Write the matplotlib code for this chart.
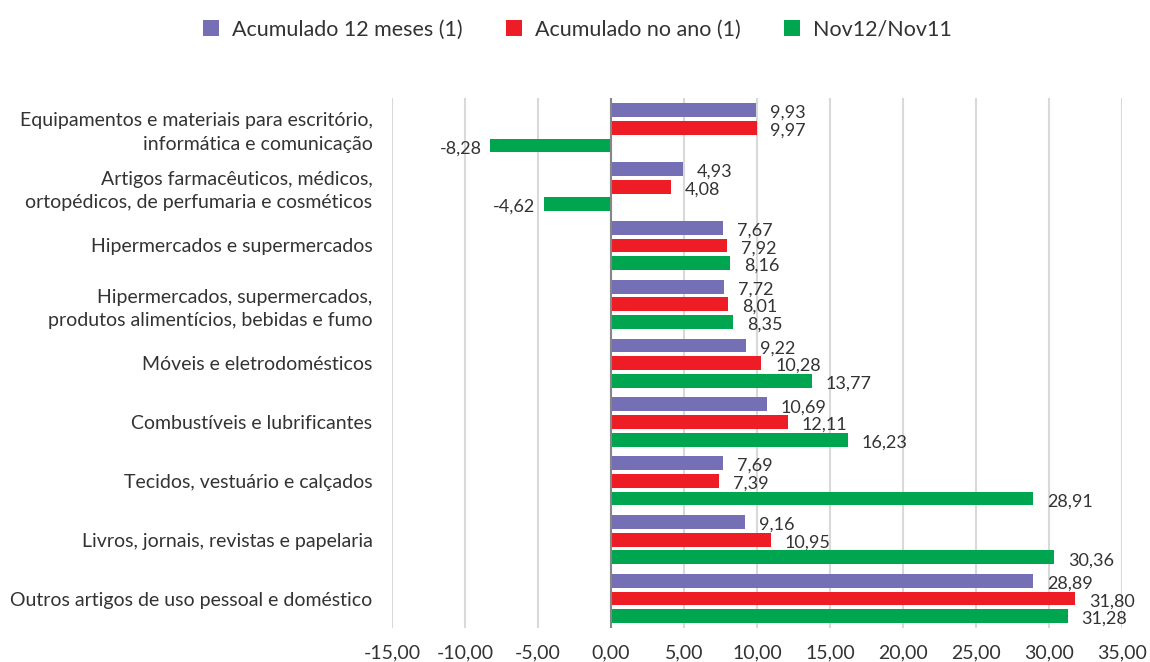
import numpy as np
from matplotlib import pyplot as plt

plt.rcParams['font.family'] = ['Lato', 'DejaVu Sans']

categorias = [
    'Equipamentos e materiais para escritório,\ninformática e comunicação',
    'Artigos farmacêuticos, médicos,\nortopédicos, de perfumaria e cosméticos',
    'Hipermercados e supermercados',
    'Hipermercados, supermercados,\nprodutos alimentícios, bebidas e fumo',
    'Móveis e eletrodomésticos',
    'Combustíveis e lubrificantes',
    'Tecidos, vestuário e calçados',
    'Livros, jornais, revistas e papelaria',
    'Outros artigos de uso pessoal e doméstico',
]

acum_12m = [9.93, 4.93, 7.67, 7.72, 9.22, 10.69, 7.69, 9.16, 28.89]
acum_ano = [9.97, 4.08, 7.92, 8.01, 10.28, 12.11, 7.39, 10.95, 31.80]
nov12_nov11 = [-8.28, -4.62, 8.16, 8.35, 13.77, 16.23, 28.91, 30.36, 31.28]

series = [
    ('Acumulado 12 meses (1)', acum_12m, '#7570B5'),
    ('Acumulado no ano (1)', acum_ano, '#EE1D25'),
    ('Nov12/Nov11', nov12_nov11, '#00A550'),
]

texto = '#333333'

fig = plt.figure(figsize=(11.5, 6.62), dpi=100)
ax = fig.add_axes([0.3409, 0.0514, 0.6348, 0.800])

y = np.arange(len(categorias))
passo = 0.30
altura = 0.235

for i, (nome, vals, cor) in enumerate(series):
    pos = y + (i - 1) * passo
    ax.barh(pos, vals, height=altura, color=cor, label=nome, zorder=3)
    for p, v in zip(pos, vals):
        txt = '{:.2f}'.format(v).replace('.', ',')
        if v >= 0:
            ax.annotate(txt, (v, p), xytext=(10, -2), textcoords='offset points',
                        ha='left', va='center', fontsize=13, color=texto)
        else:
            ax.annotate(txt, (v, p), xytext=(-6, -2), textcoords='offset points',
                        ha='right', va='center', fontsize=13, color=texto)

ax.set_xlim(-15, 35)
ax.set_ylim(len(categorias) - 0.5, -0.5)
ax.set_xticks(np.arange(-15, 36, 5))
ax.set_xticklabels(['{:.2f}'.format(t).replace('.', ',') for t in np.arange(-15, 36, 5)])
ax.set_yticks(y)
ax.set_yticklabels(categorias, fontsize=14, color=texto, linespacing=1.45)
ax.tick_params(axis='y', length=0, pad=14)
ax.tick_params(axis='x', length=0, labelsize=14, labelcolor=texto, pad=12)

ax.grid(axis='x', color='#D9D9D9', linewidth=1.5, zorder=0)
ax.axvline(0, color='#868686', linewidth=1.5, zorder=4)
for s in ax.spines.values():
    s.set_visible(False)

fig.legend(loc='upper center', bbox_to_anchor=(0.502, 1.0), ncol=3, frameon=False,
           fontsize=15.5, handlelength=0.75, handleheight=0.75, handletextpad=0.6,
           columnspacing=2.0, labelcolor=texto)

fig.savefig('out.png', dpi=100)
